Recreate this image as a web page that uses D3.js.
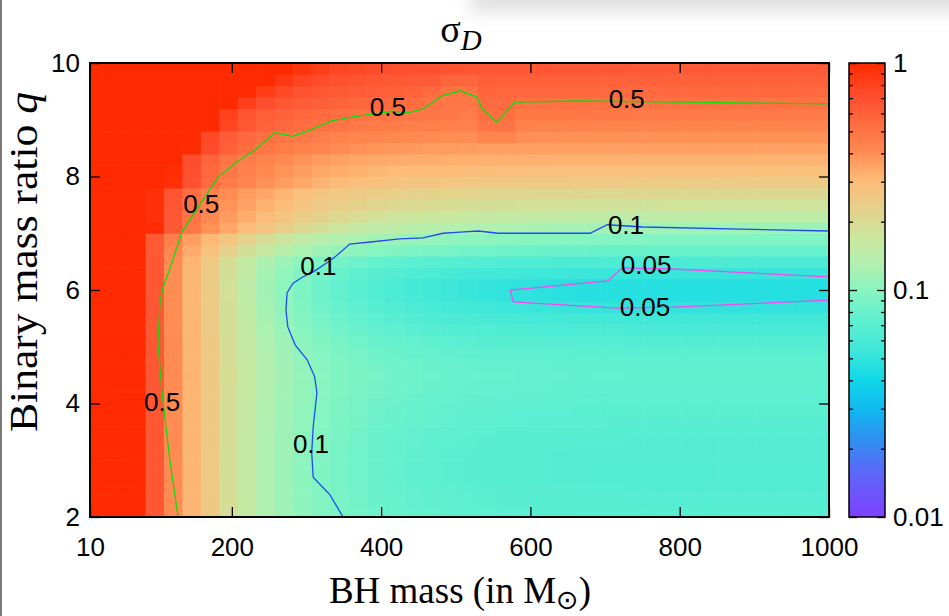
<!DOCTYPE html>
<html><head><meta charset="utf-8">
<script src="https://cdn.jsdelivr.net/npm/d3@7"></script>
<style>body{margin:0;background:#fff}svg{display:block}</style>
</head><body>
<svg id="chart" width="949" height="616"></svg>
<script>
// ---- grid edges (BH mass, q) ----
const massEdges = [10,34.75,59.5,84.25,109,133.75,158.5,183.25,208,232.75,257.5,282.25,307,331.75,356.5,381.25,406,430.75,455.5,480.25,505,529.75,554.5,579.25,604,628.75,653.5,678.25,703,727.75,752.5,777.25,802,826.75,851.5,876.25,901,925.75,950.5,975.25,1000];
const qEdges = [2,2.2,2.4,2.6,2.8,3,3.2,3.4,3.6,3.8,4,4.2,4.4,4.6,4.8,5,5.2,5.4,5.6,5.8,6,6.2,6.4,6.6,6.8,7,7.2,7.4,7.6,7.8,8,8.2,8.4,8.6,8.8,9,9.2,9.4,9.6,9.8,10];

// ---- sigma_D per cell, one array per q row (bottom q=2.0-2.2 ... top q=9.8-10) ----
const s00=[2.0,2.0,1.3,.663,.406,.317,.254,.192,.160,.129,.116,.105,.0969,.0907,.0862,.0821,.0794,.0770,.0751,.0735,.0724,.0715,.0706,.0701,.0696,.0692,.0689,.0687,.0685,.068,.068,.068,.068,.068,.068,.068,.068,.068,.068,.068];
const s01=[2.0,2.0,1.3,.663,.406,.317,.254,.192,.160,.129,.115,.104,.0962,.0899,.0854,.0813,.0785,.0761,.0742,.0726,.0715,.0705,.0696,.0691,.0687,.0682,.0679,.0677,.0675,.067,.067,.067,.067,.067,.067,.067,.067,.067,.067,.067];
const s02=[2.0,2.0,1.3,.663,.405,.317,.254,.192,.159,.128,.115,.104,.0955,.0892,.0847,.0805,.0777,.0752,.0733,.0717,.0706,.0696,.0687,.0682,.0677,.0673,.0669,.0667,.0665,.066,.066,.066,.066,.066,.066,.066,.066,.066,.066,.066];
const s03=[2.0,2.0,1.3,.663,.405,.317,.253,.191,.159,.128,.114,.103,.0948,.0885,.0839,.0797,.0769,.0743,.0724,.0708,.0696,.0686,.0677,.0672,.0667,.0663,.0659,.0657,.0655,.065,.065,.065,.065,.065,.065,.065,.065,.065,.065,.065];
const s04=[2.0,2.0,1.3,.663,.405,.317,.253,.191,.159,.128,.114,.103,.0948,.0885,.0839,.0797,.0769,.0743,.0724,.0708,.0696,.0686,.0677,.0672,.0667,.0663,.0659,.0657,.0655,.065,.065,.065,.065,.065,.065,.065,.065,.065,.065,.065];
const s05=[2.0,2.0,1.3,.663,.405,.317,.253,.191,.159,.128,.114,.103,.0948,.0885,.0839,.0797,.0769,.0743,.0724,.0708,.0696,.0686,.0677,.0672,.0667,.0663,.0659,.0657,.0655,.065,.065,.065,.065,.065,.065,.065,.065,.065,.065,.065];
const s06=[2.0,2.0,1.3,.663,.405,.317,.254,.192,.159,.128,.115,.104,.0955,.0892,.0847,.0805,.0777,.0752,.0733,.0717,.0706,.0696,.0687,.0682,.0677,.0673,.0669,.0667,.0665,.066,.066,.066,.066,.066,.066,.066,.066,.066,.066,.066];
const s07=[2.0,2.0,1.3,.663,.406,.317,.254,.192,.160,.129,.115,.104,.0962,.0899,.0854,.0813,.0785,.0761,.0742,.0726,.0715,.0705,.0696,.0691,.0687,.0682,.0679,.0677,.0675,.067,.067,.067,.067,.067,.067,.067,.067,.067,.067,.067];
const s08=[2.0,2.0,1.3,.664,.406,.318,.254,.193,.161,.130,.117,.106,.0976,.0914,.0870,.0829,.0802,.0778,.0760,.0745,.0734,.0724,.0716,.0711,.0706,.0702,.0699,.0697,.0695,.069,.069,.069,.069,.069,.069,.069,.069,.069,.069,.069];
const s09=[2.0,2.0,1.3,.664,.406,.318,.255,.193,.161,.130,.117,.106,.0983,.0922,.0878,.0838,.0811,.0787,.0769,.0754,.0743,.0734,.0725,.0720,.0716,.0712,.0709,.0706,.0705,.070,.070,.070,.070,.070,.070,.070,.070,.070,.070,.070];
const s10=[2.0,2.0,1.3,.664,.406,.318,.255,.194,.162,.131,.118,.108,.0997,.0937,.0894,.0855,.0828,.0805,.0788,.0773,.0762,.0753,.0745,.0740,.0735,.0732,.0728,.0726,.0724,.072,.072,.072,.072,.072,.072,.072,.072,.072,.072,.072];
const s11=[2.0,2.0,1.3,.664,.407,.318,.256,.194,.162,.132,.119,.108,.100,.0945,.0902,.0863,.0837,.0814,.0797,.0782,.0772,.0762,.0754,.0750,.0745,.0742,.0738,.0736,.0734,.073,.073,.073,.073,.073,.073,.073,.073,.073,.073,.073];
const s12=[2.0,2.0,1.3,.664,.407,.319,.256,.195,.163,.133,.120,.109,.101,.0953,.0910,.0871,.0846,.0823,.0806,.0791,.0781,.0772,.0764,.0759,.0755,.0751,.0748,.0746,.0744,.074,.074,.074,.074,.074,.074,.074,.074,.074,.074,.074];
const s13=[2.0,2.0,1.3,.664,.407,.318,.256,.194,.162,.132,.119,.108,.100,.0945,.0902,.0863,.0837,.0814,.0797,.0782,.0772,.0762,.0754,.0750,.0745,.0742,.0738,.0736,.0734,.073,.073,.073,.073,.073,.073,.073,.073,.073,.073,.073];
const s14=[2.0,2.0,1.3,.664,.406,.318,.255,.193,.161,.130,.117,.106,.0983,.0922,.0878,.0838,.0811,.0787,.0769,.0754,.0743,.0734,.0725,.0720,.0716,.0712,.0709,.0706,.0705,.070,.070,.070,.070,.070,.070,.070,.070,.070,.070,.070];
const s15=[2.0,2.0,1.3,.663,.405,.317,.254,.192,.159,.128,.115,.104,.0955,.0892,.0847,.0805,.0777,.0752,.0733,.0717,.0706,.0696,.0687,.0682,.0677,.0673,.0669,.0667,.0665,.066,.066,.066,.066,.066,.066,.066,.066,.066,.066,.066];
const s16=[2.0,2.0,1.3,.663,.404,.316,.252,.190,.157,.125,.112,.100,.0914,.0849,.0801,.0756,.0727,.0700,.0680,.0662,.0650,.0639,.0629,.0624,.0619,.0614,.0610,.0607,.0605,.060,.060,.060,.060,.060,.060,.060,.060,.060,.060,.060];
const s17=[2.0,2.0,1.3,.662,.404,.315,.251,.188,.155,.123,.109,.0971,.0882,.0814,.0764,.0717,.0686,.0658,.0636,.0617,.0604,.0592,.0582,.0576,.0570,.0565,.0561,.0558,.0556,.055,.055,.055,.055,.055,.055,.055,.055,.055,.055,.055];
const s18=[2.0,2.0,1.3,.662,.403,.314,.250,.187,.153,.121,.106,.0943,.0852,.0781,.0729,.0680,.0647,.0616,.0593,.0573,.0559,.0546,.0535,.0528,.0522,.0516,.0512,.0509,.0506,.050,.050,.050,.050,.050,.050,.050,.050,.050,.050,.050];
const s19=[2.0,2.0,1.3,.662,.403,.313,.249,.186,.152,.119,.105,.0923,.0829,.0756,.0702,.0651,.0616,.0585,.0560,.0539,.0524,.0510,.0498,.0490,.0484,.0478,.0473,.0470,.0467,.0465,.046,.046,.046,.046,.046,.046,.046,.046,.046,.046];
const s20=[2.0,2.0,1.3,.662,.403,.313,.249,.186,.152,.119,.105,.0923,.0829,.0756,.0702,.0651,.0616,.0585,.0560,.0539,.0524,.0510,.0498,.0490,.0484,.0478,.0473,.0470,.0467,.0465,.046,.046,.046,.046,.046,.046,.046,.046,.046,.046];
const s21=[2.0,2.0,1.3,.662,.403,.314,.250,.187,.154,.122,.107,.0954,.0864,.0794,.0743,.0695,.0662,.0633,.0610,.0591,.0577,.0565,.0554,.0547,.0541,.0536,.0532,.0529,.0526,.052,.052,.052,.052,.052,.052,.052,.052,.052,.052,.052];
const s22=[2.0,2.0,1.3,.663,.405,.316,.253,.190,.158,.126,.113,.101,.0927,.0863,.0816,.0772,.0743,.0717,.0697,.0680,.0669,.0658,.0648,.0643,.0638,.0633,.0630,.0627,.0625,.062,.062,.062,.062,.062,.062,.062,.062,.062,.062,.062];
const s23=[2.0,1.75,1.13,.640,.423,.339,.281,.229,.188,.162,.137,.125,.116,.108,.103,.0978,.0946,.0916,.0891,.0872,.0855,.0843,.0829,.0822,.0813,.0808,.0802,.0798,.0794,.0792,.0789,.0786,.0785,.0784,.0783,.078,.078,.078,.078,.078];
const s24=[2.0,1.59,1.05,.645,.452,.362,.310,.266,.223,.192,.170,.150,.139,.131,.124,.119,.115,.111,.109,.106,.104,.103,.101,.100,.0992,.0984,.0977,.0970,.0965,.0961,.0957,.0955,.0953,.0950,.0948,.0946,.0945,.0944,.0943,.0943];
const s25=[2.0,1.83,1.40,.977,.650,.484,.393,.343,.303,.270,.235,.208,.191,.174,.160,.153,.146,.142,.138,.134,.131,.129,.127,.125,.123,.122,.121,.120,.119,.1187,.1181,.1174,.1170,.1166,.1163,.1159,.1157,.1154,.1153,.1151];
const s26=[2.0,1.72,1.3,.94,.661,.505,.415,.370,.332,.301,.272,.244,.224,.210,.197,.185,.178,.174,.170,.166,.163,.161,.158,.157,.155,.154,.153,.152,.151,.1504,.1496,.1492,.1487,.1483,.1478,.1475,.1471,.1470,.1467,.1465];
const s27=[1.97,1.66,1.27,.94,.668,.520,.432,.388,.353,.323,.298,.271,.250,.237,.226,.215,.206,.202,.198,.195,.192,.190,.188,.186,.185,.184,.183,.182,.181,.180,.1797,.179,.1787,.1783,.1779,.1776,.1772,.1770,.1768,.1766];
const s28=[1.97,1.66,1.27,.943,.677,.531,.445,.402,.369,.341,.317,.291,.271,.260,.250,.240,.232,.228,.225,.222,.220,.218,.216,.2147,.2134,.2125,.2116,.2107,.2100,.2094,.2090,.2085,.2081,.2078,.2075,.2072,.2069,.2067,.2065,.2063];
const s29=[2.0,1.97,1.66,1.29,.952,.690,.548,.465,.424,.392,.366,.344,.321,.303,.293,.284,.275,.268,.265,.262,.2596,.2575,.2559,.2544,.2532,.2522,.2513,.2506,.2499,.2492,.2487,.2484,.2479,.2476,.2473,.2471,.2468,.2466,.2464,.2463];
const s30=[2.0,2.0,1.72,1.33,.973,.705,.562,.482,.444,.413,.388,.366,.346,.332,.323,.3145,.307,.303,.3007,.2982,.2962,.2947,.2932,.2921,.2912,.2904,.2897,.2891,.2885,.2882,.2878,.2874,.2871,.2869,.2867,.2864,.2863,.2861,.2860,.2858];
const s31=[2.0,2.0,1.77,1.39,1.0,.716,.575,.499,.458,.432,.409,.387,.369,.359,.350,.343,.337,.3348,.3324,.3303,.3288,.3275,.3264,.3255,.3248,.3242,.3236,.3231,.3227,.3224,.3221,.3218,.3216,.3214,.3212,.3211,.3209,.3208,.3207,.3206];
const s32=[2.0,2.0,2.0,1.76,1.35,.995,.736,.600,.527,.492,.464,.442,.423,.405,.394,.386,.379,.373,.370,.3677,.3657,.3641,.3628,.3616,.3607,.3600,.3594,.3588,.3583,.3578,.3575,.3572,.3569,.3567,.3565,.3563,.3562,.3560,.3559,.3558];
const s33=[2.0,2.0,1.97,1.71,1.33,.999,.754,.626,.555,.521,.496,.476,.459,.4415,.4287,.4216,.4153,.4095,.4050,.4029,.4009,.423,.430,.3970,.3960,.3952,.3945,.3940,.3935,.3931,.3927,.3924,.3921,.3918,.3917,.3915,.3913,.3912,.3910,.3909];
const s34=[2.0,2.0,2.0,1.97,1.66,1.30,1.0,.775,.656,.587,.556,.532,.513,.498,.482,.469,.462,.456,.451,.446,.443,.494,.501,.4382,.4371,.4362,.4353,.4347,.4341,.4336,.4333,.4329,.4325,.4322,.4320,.4318,.4316,.4314,.4312,.4311];
const s35=[2.0,2.0,2.0,1.98,1.67,1.32,1.02,.798,.683,.617,.587,.565,.547,.533,.519,.506,.499,.494,.489,.4846,.467,.528,.527,.4776,.4765,.4757,.4749,.4743,.4738,.4733,.4730,.4726,.4723,.4720,.4718,.4716,.4714,.4713,.4711,.4710];
const s36=[2.0,2.0,2.0,2.0,1.93,1.64,1.30,1.03,.822,.714,.654,.624,.603,.586,.572,.559,.547,.539,.507,.487,.484,.538,.541,.519,.5178,.5167,.5159,.5151,.5145,.5140,.5135,.5131,.5128,.5124,.5122,.5119,.5117,.5116,.5114,.5112];
const s37=[2.0,2.0,2.0,2.0,2.0,1.90,1.61,1.30,1.04,.849,.747,.691,.660,.640,.624,.611,.600,.588,.550,.506,.502,.567,.563,.5605,.5592,.5580,.5570,.5561,.5554,.5547,.5541,.5537,.5532,.5529,.5526,.5523,.5520,.5518,.5516,.5515];
const s38=[2.0,2.0,2.0,2.0,2.0,2.0,1.87,1.58,1.29,1.06,.876,.782,.727,.697,.677,.662,.650,.640,.629,.577,.572,.611,.607,.604,.601,.599,.598,.597,.596,.5955,.5948,.5943,.5938,.5934,.5930,.5927,.5925,.5922,.5920,.5918];
const s39=[2.0,2.0,2.0,2.0,2.0,2.0,2.0,1.85,1.57,1.30,1.08,.910,.824,.772,.742,.724,.710,.698,.689,.679,.671,.665,.661,.657,.654,.652,.649,.648,.647,.646,.6456,.6449,.6444,.6439,.6435,.6431,.6428,.6425,.6423,.6420];
const sigmaRows=[s00,s01,s02,s03,s04,s05,s06,s07,s08,s09,s10,s11,s12,s13,s14,s15,s16,s17,s18,s19,s20,s21,s22,s23,s24,s25,s26,s27,s28,s29,s30,s31,s32,s33,s34,s35,s36,s37,s38,s39];

// ---- contour lines [mass, q] ----
const contour05 = [[128,2.0],[117,3.0],[106.5,4.19],[101,5.07],[104,5.82],[108,6.05],[121,6.53],[133,7.02],[155,7.46],[181.5,7.99],[207,8.26],[231,8.47],[258,8.77],[282,8.71],[305,8.82],[334,8.98],[362,9.05],[389,9.10],[416,9.15],[435,9.12],[456,9.19],[481.5,9.42],[506,9.51],[528,9.40],[536.5,9.17],[555,8.96],[579,9.31],[662,9.33],[804,9.31],[1000,9.28]];
const contour01 = [[349,2.0],[331.5,2.39],[309,2.70],[307,3.13],[309,3.59],[314,4.19],[311,4.47],[301,4.77],[285,5.03],[275,5.35],[272.5,5.65],[274,5.95],[282,6.12],[295,6.23],[309,6.32],[327.5,6.48],[338,6.58],[358,6.81],[389,6.85],[425,6.90],[456,6.92],[483,7.00],[506,7.02],[530,7.04],[557,7.00],[680,7.00],[703,7.15],[751,7.11],[1000,7.04]];
const contour005 = [[1000,6.23],[791,6.37],[723,6.39],[704,6.16],[573,6.00],[577,5.79],[716,5.68],[791,5.70],[1000,5.82]];
const contourLabels = [
  {text:"0.5",m:409,q:9.23},{text:"0.5",m:729,q:9.38},{text:"0.5",m:159,q:7.53},{text:"0.5",m:106.5,q:4.04},
  {text:"0.1",m:316,q:6.43},{text:"0.1",m:728,q:7.16},{text:"0.1",m:306,q:3.30},
  {text:"0.05",m:755,q:6.44},{text:"0.05",m:753.5,q:5.71}];

// ---- ticks & palette ----
const massTicks = [10,200,400,600,800,1000];
const qTicks = [2,4,6,8,10];
const cbTicks = [0.01,0.1,1];
const cbMinorTicks = [0.02,0.03,0.04,0.05,0.06,0.07,0.08,0.09,0.2,0.3,0.4,0.5,0.6,0.7,0.8,0.9];
const paletteSigma = [0.01,0.0161,0.0219,0.0297,0.0403,0.0546,0.0741,0.1,0.129,0.166,0.225,0.305,0.413,0.701,1];
const paletteColors = ["#8040ff","#5a6af8","#3090f0","#10b8f0","#10d8e8","#40e8d8","#60f0d0","#88f5c0","#b0f0b0","#c8e8a0","#e4d28c","#fdbc78","#ff8850","#ff5030","#ff2a00"];

const W=949,H=616;
const P={l:90,r:829,t:63,b:517};
const CB={l:849,r:885};
const SANS='"Liberation Sans", Arial, Helvetica, sans-serif';
const SERIF='"Liberation Serif", "Times New Roman", Times, serif';

const x = d3.scaleLinear().domain([10,1000]).range([P.l,P.r]);
const y = d3.scaleLinear().domain([2,10]).range([P.b,P.t]);
const color = d3.scaleLog().domain(paletteSigma).range(paletteColors).interpolate(d3.interpolateRgb).clamp(true);
const cbY = d3.scaleLog().domain([0.01,1]).range([P.b,P.t]);

const svg = d3.select("#chart");
svg.append("rect").attr("width",W).attr("height",H).attr("fill","#fff");
const defs = svg.append("defs");
defs.append("filter").attr("id","blur").attr("x","-20%").attr("y","-100%").attr("width","140%").attr("height","300%")
  .append("feGaussianBlur").attr("stdDeviation",9);
svg.append("rect").attr("x",470).attr("y",-18).attr("width",540).attr("height",30).attr("fill","#e0e0e0").attr("filter","url(#blur)");
svg.append("rect").attr("x",0).attr("y",0).attr("width",2).attr("height",H).attr("fill","#7a7a7a");

defs.append("clipPath").attr("id","plotclip").append("rect")
  .attr("x",P.l).attr("y",P.t).attr("width",P.r-P.l).attr("height",P.b-P.t);

// heatmap
const cells=[];
sigmaRows.forEach((row,j)=>row.forEach((v,i)=>cells.push({i,j,v})));
svg.append("g").attr("clip-path","url(#plotclip)")
  .selectAll("rect").data(cells).join("rect")
  .attr("x",d=>x(massEdges[d.i]))
  .attr("y",d=>y(qEdges[d.j+1]))
  .attr("width",d=>x(massEdges[d.i+1])-x(massEdges[d.i])+0.6)
  .attr("height",d=>y(qEdges[d.j])-y(qEdges[d.j+1])+0.6)
  .attr("fill",d=>color(d.v));

// contours
const line = d3.line().x(d=>x(d[0])).y(d=>y(d[1]));
const cg = svg.append("g").attr("clip-path","url(#plotclip)").attr("fill","none");
cg.append("path").attr("d",line(contour05)).attr("stroke","#10dd10").attr("stroke-width",1.3);
cg.append("path").attr("d",line(contour01)).attr("stroke","#1d4cf2").attr("stroke-width",1.3);
cg.append("path").attr("d",line(contour005)).attr("stroke","#f04cf0").attr("stroke-width",1.3);
svg.append("g").selectAll("text").data(contourLabels).join("text")
  .attr("x",d=>x(d.m)).attr("y",d=>y(d.q)).attr("dy","0.36em")
  .attr("text-anchor","middle").attr("font-family",SANS).attr("font-size",26).attr("fill","#000")
  .text(d=>d.text);

// axes
function styleAxis(g){
  g.select(".domain").remove();
  g.selectAll(".tick line").attr("stroke","#000").attr("stroke-width",1.3);
  g.selectAll(".tick text").attr("font-family",SANS).attr("font-size",26).attr("fill","#000");
}
svg.append("g").attr("transform",`translate(0,${P.b})`)
  .call(d3.axisBottom(x).tickValues(massTicks).tickSize(-10).tickPadding(21).tickFormat(d3.format("d"))).call(styleAxis);
svg.append("g").attr("transform",`translate(0,${P.t})`)
  .call(d3.axisTop(x).tickValues(massTicks).tickSize(-10).tickFormat("")).call(styleAxis);
svg.append("g").attr("transform",`translate(${P.l},0)`)
  .call(d3.axisLeft(y).tickValues(qTicks).tickSize(-10).tickPadding(10).tickFormat(d3.format("d"))).call(styleAxis);
svg.append("g").attr("transform",`translate(${P.r},0)`)
  .call(d3.axisRight(y).tickValues(qTicks).tickSize(-10).tickFormat("")).call(styleAxis);
svg.append("rect").attr("x",P.l).attr("y",P.t).attr("width",P.r-P.l).attr("height",P.b-P.t)
  .attr("fill","none").attr("stroke","#000").attr("stroke-width",2);

// colorbar
const grad = defs.append("linearGradient").attr("id","cbgrad").attr("x1",0).attr("y1",1).attr("x2",0).attr("y2",0);
d3.range(0,101).forEach(k=>{
  const v = Math.pow(10,-2+2*k/100);
  grad.append("stop").attr("offset",(k)+"%").attr("stop-color",color(v));
});
svg.append("rect").attr("x",CB.l).attr("y",P.t).attr("width",CB.r-CB.l).attr("height",P.b-P.t).attr("fill","url(#cbgrad)");
svg.append("g").attr("transform",`translate(${CB.r},0)`)
  .call(d3.axisRight(cbY).tickValues(cbTicks).tickSize(-8).tickPadding(8).tickFormat(d3.format("~g"))).call(styleAxis);
svg.append("g").attr("transform",`translate(${CB.r},0)`)
  .call(d3.axisRight(cbY).tickValues(cbMinorTicks).tickSize(-4).tickFormat("")).call(styleAxis);
svg.append("g").attr("transform",`translate(${CB.l},0)`)
  .call(d3.axisLeft(cbY).tickValues(cbTicks).tickSize(-8).tickFormat("")).call(styleAxis);
svg.append("g").attr("transform",`translate(${CB.l},0)`)
  .call(d3.axisLeft(cbY).tickValues(cbMinorTicks).tickSize(-4).tickFormat("")).call(styleAxis);
svg.append("rect").attr("x",CB.l).attr("y",P.t).attr("width",CB.r-CB.l).attr("height",P.b-P.t)
  .attr("fill","none").attr("stroke","#000").attr("stroke-width",1.5);

// titles
const t = svg.append("text").attr("x",461).attr("y",42).attr("text-anchor","middle")
  .attr("font-family",SERIF).attr("font-size",38).attr("fill","#000");
t.append("tspan").text("σ");
t.append("tspan").attr("font-style","italic").attr("font-size",29).attr("dy",8).text("D");

const xt = svg.append("text").attr("x",460).attr("y",603).attr("text-anchor","middle")
  .attr("font-family",SERIF).attr("font-size",37).attr("fill","#000");
xt.append("tspan").text("BH mass (in M");
xt.append("tspan").attr("font-family","DejaVu Sans").attr("font-size",27).attr("dy",6).text("⊙");
xt.append("tspan").attr("dy",-6).text(")");

const yt = svg.append("text").attr("transform","translate(37,262) rotate(-90)").attr("text-anchor","middle")
  .attr("font-family",SERIF).attr("font-size",39).attr("fill","#000")
  .attr("textLength",340).attr("lengthAdjust","spacingAndGlyphs");
yt.append("tspan").text("Binary mass ratio ");
yt.append("tspan").attr("font-style","italic").text("q");
</script>
</body></html>
